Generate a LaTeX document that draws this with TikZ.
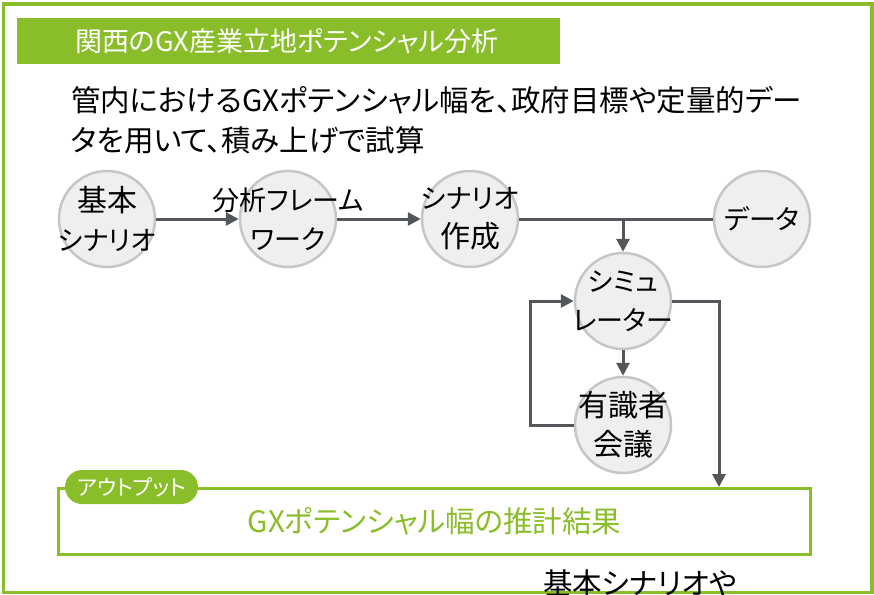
\documentclass[tikz,border=0pt]{standalone}
\usepackage{fontspec}
\setmainfont{Noto Sans CJK JP}[RawFeature=+palt]
\usetikzlibrary{arrows.meta}
\definecolor{gxgreen}{HTML}{8ABD2A}
\definecolor{lnk}{HTML}{53575C}
\definecolor{bubbord}{HTML}{C6C6C6}
\definecolor{bubfill}{HTML}{EFEFEF}
\newcommand{\kj}{\fontsize{30}{39}\selectfont}
\tikzset{
  bubble/.style={circle,draw=bubbord,fill=bubfill,line width=2.5pt,minimum size=96pt,inner sep=0pt},
  btext/.style={align=center,inner sep=0pt,font=\fontsize{27}{39}\selectfont},
  link/.style={draw=lnk,line width=3pt},
  arr/.style={link,-{Triangle[length=13pt,width=13pt]}},
}
\begin{document}
\begin{tikzpicture}[x=1pt,y=-1pt]
\clip (0,0) rectangle (874,594);
\useasboundingbox (0,0) rectangle (874,594);
% outer frame
\draw[gxgreen,line width=3.5pt] (3.5,4) rectangle (872,592.5);
% title
\node[fill=gxgreen,minimum width=543pt,minimum height=46pt,anchor=north west,inner sep=0pt] (title) at (17,18) {};
\node[anchor=west,text=white,inner sep=0pt,font=\fontsize{27}{30}\selectfont] (titletext) at (75,41) {関西のGX産業立地ポテンシャル分析};
% body text
\node[anchor=west,align=left,inner sep=0pt,font=\fontsize{29.5}{40}\selectfont] (body) at (71,120) {管内におけるGXポテンシャル幅を、政府目標や定量的デー\\タを用いて、積み上げで試算};
% bubbles
\node[bubble] (b1) at (107,219) {};
\node[btext] at (b1) {{\kj 基本}\\シナリオ};
\node[bubble] (b2) at (288,219) {};
\node[btext] at (b2) {分析フレーム\\ワーク};
\node[bubble] (b3) at (470,219) {};
\node[btext] at (b3) {シナリオ\\{\kj 作成}};
\node[bubble] (b4) at (762,219) {};
\node[btext] at (b4) {データ};
\node[bubble] (sim) at (623,301) {};
\node[btext] at (sim) {シミュ\\レーター};
\node[bubble] (exp) at (623,425) {};
\node[btext,font=\kj] at (exp) {有識者\\会議};
% output box
\node[draw=gxgreen,line width=3pt,minimum width=752pt,minimum height=66pt,inner sep=0pt,text=gxgreen,font=\fontsize{29.5}{32}\selectfont] (out) at (434.5,521.5) {GXポテンシャル幅の推計結果};
\node[fill=gxgreen,rounded corners=17pt,minimum width=133pt,minimum height=34pt,inner sep=0pt,text=white,font=\fontsize{21.5}{24}\selectfont] (tag) at (131.5,487) {アウトプット};
% connectors
\draw[arr] (b1) -- (b2);
\draw[arr] (b2) -- (b3);
\draw[link] (b3) -- (b4);
\coordinate (j) at (623,219);
\draw[arr] (j) -- (sim.north);
\draw[arr] (sim.south) -- (exp.north);
\coordinate (lp) at (530,0);
\draw[arr] (exp.west) -- (exp.west -| lp) |- (sim.west);
\coordinate (rx) at (719,0);
\draw[arr] (sim.east) -| (rx |- out.north);
% bottom text
\node[anchor=west,inner sep=0pt,font=\fontsize{29.5}{32}\selectfont] (bottom) at (543,583) {基本シナリオや};
\end{tikzpicture}
\end{document}
